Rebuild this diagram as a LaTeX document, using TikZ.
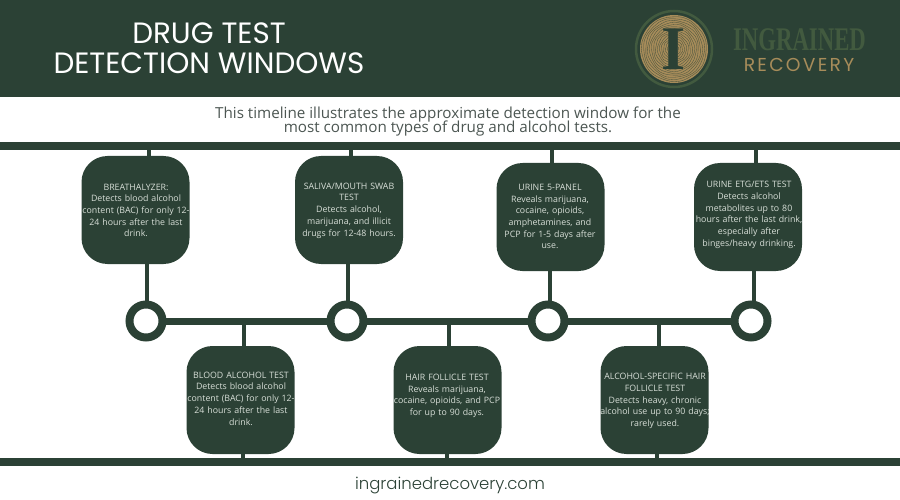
\documentclass[tikz,border=0pt]{standalone}
\usepackage{fontspec}
\setmainfont{Open Sans}
\newfontfamily\headfont{Poppins}
\newfontfamily\logofont{Liberation Serif}
\newfontfamily\recfont[LetterSpace=12]{Poppins}
\newfontfamily\webfont{Poppins Light}
\definecolor{pine}{HTML}{2B4135}
\definecolor{moss}{HTML}{425A3F}
\definecolor{gold}{HTML}{A78C5A}
\definecolor{boxtext}{HTML}{D8DFD8}
\definecolor{introgrey}{HTML}{4C5652}
\tikzset{
  bar/.style={fill=pine,draw=none,minimum width=900pt,minimum height=8pt,inner sep=0pt},
  stem/.style={draw=pine,line width=4.5pt},
  ring/.style={circle,draw=pine,fill=white,line width=8pt,minimum size=33pt,inner sep=0pt},
  testbox/.style={fill=pine,rounded corners=26pt,minimum width=108pt,minimum height=108pt,inner sep=0pt},
  testtext/.style={text=boxtext,font=\fontsize{8.8}{11.7}\selectfont,align=center,text width=125pt},
  grain/.style={draw=pine!75!gold,line width=0.35pt},
}
\begin{document}
\begin{tikzpicture}[x=1pt,y=-1pt]
  \useasboundingbox (0,0) rectangle (900,500);
  \fill[pine] (0,0) rectangle (900,97);
  % title
  \node[text=white,font=\headfont\fontsize{29.4}{30}\selectfont,align=center] (title) at (209,48) {DRUG TEST\\DETECTION WINDOWS};
  % logo
  \draw[moss,line width=2.5pt] (674,49) circle (38);
  \fill[gold] (674,49) circle (34);
  \foreach \r in {2.5,4.5,...,32.5}
    \draw[grain] plot[smooth cycle,domain=0:345,samples=24] ({674+(\r+0.4*sin(7*\x+40*\r))*cos(\x)},{49+(\r+0.4*sin(7*\x+40*\r))*sin(\x)});
  \node[text=pine,font=\logofont\bfseries\fontsize{62}{62}\selectfont,inner sep=0pt] (logoi) at (674,49) {I};
  \node[text=moss,font=\logofont\bfseries\fontsize{33}{33}\selectfont,xscale=0.69,transform shape,inner sep=0pt] (ingrained) at (799.5,40) {INGRAINED};
  \node[text=gold,font=\recfont\fontsize{18.7}{20}\selectfont,inner sep=0pt] (recovery) at (799,65) {RECOVERY};
  % intro
  \node[text=introgrey,font=\fontsize{15.2}{14}\selectfont,align=center] (intro) at (448,121.5) {This timeline illustrates the approximate detection window for the\\[-3pt]most common types of drug and alcohol tests.};
  % bars
  \node[bar] (topbar) at (450,146) {};
  \node[bar] (botbar) at (450,462) {};
  \fill[pine] (146,317.5) rectangle (751,324.5);
  \foreach \name/\cx in {ringa/146,ringb/347,ringc/548,ringd/751}
    \node[ring] (\name) at (\cx,321) {};
  % upper boxes
  \node[testbox] (boxa) at (135.5,210) {};
  \node[testbox] (boxb) at (349,210) {};
  \node[testbox] (boxc) at (550.5,217) {};
  \node[testbox] (boxd) at (748,217) {};
  % lower boxes
  \node[testbox] (boxe) at (240.5,400) {};
  \node[testbox] (boxf) at (447.5,400) {};
  \node[testbox] (boxg) at (654.5,400) {};
  % stems
  \foreach \b/\tx/\mx in {boxa/149/147,boxb/351/348,boxc/552/550,boxd/756/754} {
    \coordinate (tp) at (\tx,146);
    \coordinate (md) at (\mx,321);
    \draw[stem] (tp) -- (tp |- \b.north);
    \draw[stem] (md |- \b.south) -- (md |- ringa.north);
  }
  \foreach \b/\tx/\mx in {boxe/244/243,boxf/449/447,boxg/659/657} {
    \coordinate (tp) at (\tx,321);
    \coordinate (md) at (\mx,462);
    \draw[stem] (tp) -- (tp |- \b.north);
    \draw[stem] (md |- \b.south) -- (md);
  }
  % box texts
  \node[testtext] (texta) at (136,210.5) {BREATHALYZER:\\Detects blood alcohol\\content (BAC) for only 12-\\24 hours after the last\\drink.};
  \node[testtext] (textb) at (349,210.5) {SALIVA/MOUTH SWAB\\TEST\\Detects alcohol,\\marijuana, and illicit\\drugs for 12-48 hours.};
  \node[testtext] (textc) at (550,216.5) {URINE 5-PANEL\\Reveals marijuana,\\cocaine, opioids,\\amphetamines, and\\PCP for 1-5 days after\\use.};
  \node[testtext] (textd) at (749,215) {URINE ETG/ETS TEST\\Detects alcohol\\metabolites up to 80\\hours after the last drink,\\especially after\\binges/heavy drinking.};
  \node[testtext] (texte) at (241,398.5) {BLOOD ALCOHOL TEST\\Detects blood alcohol\\content (BAC) for only 12-\\24 hours after the last\\drink.};
  \node[testtext] (textf) at (447,396) {HAIR FOLLICLE TEST\\Reveals marijuana,\\cocaine, opioids, and PCP\\for up to 90 days.};
  \node[testtext] (textg) at (655,401) {ALCOHOL-SPECIFIC HAIR\\FOLLICLE TEST\\Detects heavy, chronic\\alcohol use up to 90 days;\\rarely used.};
  % footer
  \node[text=pine,font=\webfont\fontsize{16.5}{20}\selectfont] (web) at (450,486) {ingrainedrecovery.com};
\end{tikzpicture}
\end{document}
